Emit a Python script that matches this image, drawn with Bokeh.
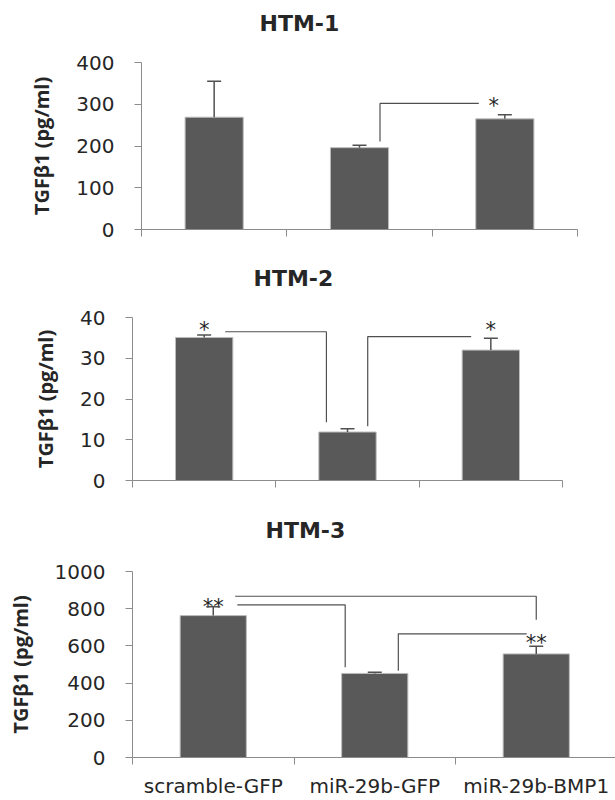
from bokeh.plotting import figure
from bokeh.models import ColumnDataSource, FixedTicker, Range1d, Title, Whisker, TeeHead
from bokeh.embed import file_html
from bokeh.resources import INLINE
from bokeh.core.properties import value

# ---------------- data ----------------
categories = ["scramble-GFP", "miR-29b-GFP", "miR-29b-BMP1"]
panel_titles = ["HTM-1", "HTM-2", "HTM-3"]

htm1_mean = [269, 196, 265]
htm1_sd = [86, 6, 10]
htm2_mean = [35.1, 11.9, 32.0]
htm2_sd = [0.6, 0.8, 2.9]
htm3_mean = [763, 452, 557]
htm3_sd = [48, 6, 41]

y1_ticks = [0, 100, 200, 300, 400]
y2_ticks = [0, 10, 20, 30, 40]
y3_ticks = [0, 200, 400, 600, 800, 1000]

# significance brackets: (category index, offset) pairs and values
htm1_bracket_cat = [[1, 1, 2]]
htm1_bracket_off = [[0.141, 0.141, -0.179]]
htm1_bracket_val = [[211, 302, 302]]
htm1_star_cat = [2]
htm1_star_off = [-0.076]
htm1_star_val = [309]
htm1_star_txt = ["*"]

htm2_bracket_cat = [[0, 1, 1], [1, 1, 2]]
htm2_bracket_off = [[0.147, -0.147, -0.147], [0.141, 0.141, -0.137]]
htm2_bracket_val = [[36.5, 36.5, 14.3], [13.3, 35.3, 35.3]]
htm2_star_cat = [0, 2]
htm2_star_off = [0.0, 0.0]
htm2_star_val = [38.4, 38.5]
htm2_star_txt = ["*", "*"]

htm3_bracket_cat = [[0, 2, 2], [0, 1, 1], [1, 1, 2]]
htm3_bracket_off = [[0.136, 0.0, 0.0], [0.149, -0.183, -0.183], [0.146, 0.146, -0.059]]
htm3_bracket_val = [[867, 867, 740], [821, 821, 485], [467, 665, 665]]
htm3_star_cat = [0, 2]
htm3_star_off = [0.0, 0.0]
htm3_star_val = [844, 646]
htm3_star_txt = ["**", "**"]

# ---------------- style ----------------
BAR = "#595959"
AXIS = "#8c8c8c"
TXT = "#262626"
LINE = "#505050"
FONT = "DejaVu Sans"


def make_panel(title, mean, sd, yticks, brk_cat, brk_off, brk_val,
               st_cat, st_off, st_val, st_txt, *, width, height, bl, br, bt, bb,
               xend, title_off, spacer, labels, bar_w):
    p = figure(width=width, height=height, output_backend="svg", toolbar_location=None,
               x_range=Range1d(0, xend), y_range=Range1d(yticks[0], yticks[-1]),
               min_border_left=bl, min_border_right=br, min_border_top=bt, min_border_bottom=bb)
    p.outline_line_color = None
    p.xgrid.visible = False
    p.ygrid.visible = False
    p.background_fill_color = "white"
    p.border_fill_color = "white"
    p.title.visible = False

    # spacer between frame and title, then the title itself
    p.add_layout(Title(text=" ", text_font_size="10px", standoff=spacer, align="left"), "above")
    p.add_layout(Title(text=title, align="left", offset=title_off, standoff=0,
                       text_font=FONT, text_font_style="bold", text_font_size="22px",
                       text_color=TXT), "above")

    xs = [i + 0.5 for i in range(len(categories))]
    src = ColumnDataSource(dict(x=xs, top=mean, upper=[m + s for m, s in zip(mean, sd)]))
    p.vbar(x="x", top="top", bottom=0, width=bar_w, source=src,
           fill_color=BAR, line_color="#bdbdbd", line_width=1)
    w = Whisker(base="x", upper="upper", lower="top", source=src, level="annotation",
                line_color=LINE, line_width=1.5,
                upper_head=TeeHead(size=14, line_color=LINE, line_width=1.5),
                lower_head=None)
    p.add_layout(w)

    for c, o, v in zip(brk_cat, brk_off, brk_val):
        bx = [ci + 0.5 + oi for ci, oi in zip(c, o)]
        p.line(bx, v, line_color=LINE, line_width=1.2)

    sx = [c + 0.5 + o for c, o in zip(st_cat, st_off)]
    p.text(x=sx, y=st_val, text=st_txt, text_align="center", text_baseline="middle",
           text_font=value(FONT), text_font_size="21px", text_color=TXT, y_offset=6)

    # y axis
    ya = p.yaxis[0]
    ya.ticker = FixedTicker(ticks=yticks, minor_ticks=[])
    ya.axis_line_color = AXIS
    ya.major_tick_line_color = AXIS
    ya.major_tick_out = 7
    ya.major_tick_in = 0
    ya.major_label_standoff = 20
    ya.major_label_text_font = FONT
    ya.major_label_text_font_size = "20px"
    ya.major_label_text_color = TXT
    ya.axis_label = "TGFβ1 (pg/ml)"
    ya.axis_label_text_font = "Open Sans"
    ya.axis_label_text_font_style = "bold"
    ya.axis_label_text_font_size = "20px"
    ya.axis_label_text_color = TXT
    ya.axis_label_standoff = 18

    # x axis
    xa = p.xaxis[0]
    xa.axis_line_color = AXIS
    xa.minor_tick_line_color = AXIS
    xa.minor_tick_out = 7
    xa.minor_tick_in = 0
    if labels:
        xa.ticker = FixedTicker(ticks=xs, minor_ticks=[0, 1, 2, 3])
        xa.major_label_overrides = {x: c for x, c in zip(xs, categories)}
        xa.major_tick_line_color = None
        xa.major_tick_out = 0
        xa.major_tick_in = 0
        xa.major_label_standoff = 9
        xa.major_label_text_font = FONT
        xa.major_label_text_font_size = "20px"
        xa.major_label_text_color = TXT
    else:
        xa.ticker = FixedTicker(ticks=[], minor_ticks=[0, 1, 2, 3])
        xa.major_tick_line_color = None
    return p


p1 = make_panel(panel_titles[0], htm1_mean, htm1_sd, y1_ticks,
                htm1_bracket_cat, htm1_bracket_off, htm1_bracket_val,
                htm1_star_cat, htm1_star_off, htm1_star_val, htm1_star_txt,
                width=615, height=258, bl=141, br=38, bt=62, bb=29, xend=3,
                title_off=118, spacer=14, labels=False, bar_w=0.4)
p2 = make_panel(panel_titles[1], htm2_mean, htm2_sd, y2_ticks,
                htm2_bracket_cat, htm2_bracket_off, htm2_bracket_val,
                htm2_star_cat, htm2_star_off, htm2_star_val, htm2_star_txt,
                width=615, height=242, bl=132, br=53, bt=59, bb=20, xend=3,
                title_off=121, spacer=14, labels=False, bar_w=0.4)
p3 = make_panel(panel_titles[2], htm3_mean, htm3_sd, y3_ticks,
                htm3_bracket_cat, htm3_bracket_off, htm3_bracket_val,
                htm3_star_cat, htm3_star_off, htm3_star_val, htm3_star_txt,
                width=615, height=300, bl=132, br=0, bt=71, bb=43, xend=483 / 161.5,
                title_off=133, spacer=16, labels=True, bar_w=0.41)

open("out.html", "w").write(file_html([p1, p2, p3], INLINE))
